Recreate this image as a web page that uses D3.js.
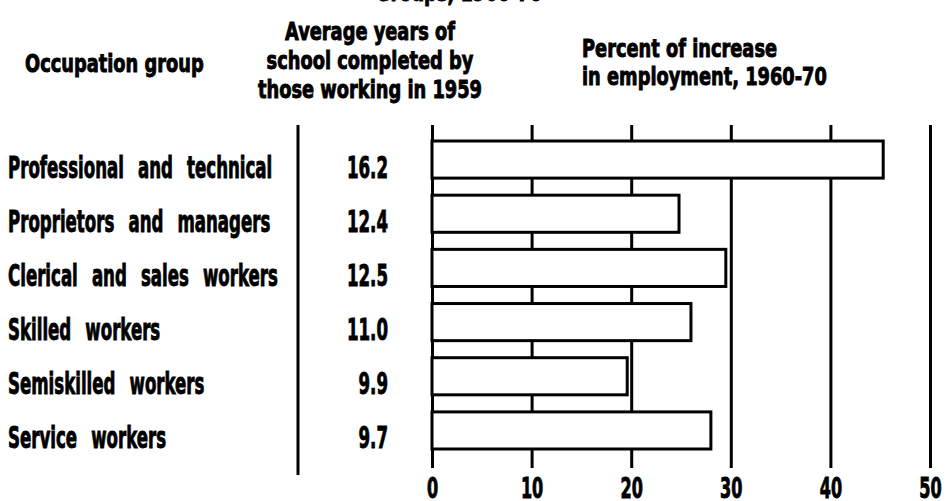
<!DOCTYPE html>
<html>
<head>
<meta charset="utf-8">
<script src="https://cdn.jsdelivr.net/npm/d3@7"></script>
<style>
  body { margin: 0; background: #fff; }
  svg text {
    font-family: "Liberation Sans Narrow", "DejaVu Sans Condensed", "Liberation Sans", Arial, sans-serif;
    font-weight: bold;
    fill: #000;
    stroke: #000;
    stroke-width: 0.9px;
  }
</style>
</head>
<body>
<svg id="chart" width="949" height="501"></svg>
<script>
// data
const groups = [
  "Professional and technical",
  "Proprietors and managers",
  "Clerical and sales workers",
  "Skilled workers",
  "Semiskilled workers",
  "Service workers"
];
const schoolYears = ["16.2", "12.4", "12.5", "11.0", "9.9", "9.7"];
const growth = [45.3, 24.8, 29.5, 26.0, 19.6, 28.0];
const xTicks = [0, 10, 20, 30, 40, 50];

const titleTail = "Groups, 1960-70";
const occHeader = ["Occupation group"];
const schoolHeader = ["Average years of", "school completed by", "those working in 1959"];
const growthHeader = ["Percent of increase", "in employment, 1960-70"];

const svg = d3.select("#chart");

const x = d3.scaleLinear().domain([0, 50]).range([432, 930]);
const y = d3.scaleBand().domain(groups).range([141, 449]).paddingInner(0.315).paddingOuter(0);

const gridTop = 125, gridBottom = 468;

// squeeze text horizontally so the condensed look of the original fits
function fitWidth(sel, target) {
  let w = 0;
  sel.each(function() { w = Math.max(w, this.getComputedTextLength()); });
  return target / w;
}

// ---- grid + tick labels via axis
const axis = d3.axisBottom(x)
  .tickValues(xTicks)
  .tickSize(-(gridBottom - gridTop))
  .tickPadding(8)
  .tickFormat(d3.format("d"));

const gAxis = svg.append("g")
  .attr("transform", `translate(0,${gridBottom})`)
  .call(axis);
gAxis.select(".domain").remove();
gAxis.selectAll(".tick line")
  .attr("stroke", "#000")
  .attr("stroke-width", 3);
gAxis.selectAll(".tick text")
  .attr("font-size", 29)
  .attr("dy", null)
  .attr("y", 30)
  .style("font-family", null);

// ---- bars
svg.append("g").selectAll("rect")
  .data(groups)
  .join("rect")
  .attr("x", x(0))
  .attr("y", d => y(d))
  .attr("width", (d, i) => x(growth[i]) - x(0))
  .attr("height", y.bandwidth())
  .attr("fill", "#fff")
  .attr("stroke", "#000")
  .attr("stroke-width", 3);

// ---- divider between label column and numbers
svg.append("line")
  .attr("x1", 298).attr("x2", 298)
  .attr("y1", gridTop).attr("y2", 475)
  .attr("stroke", "#000")
  .attr("stroke-width", 3);

// ---- row labels
const rowLabels = svg.append("g").selectAll("text")
  .data(groups)
  .join("text")
  .attr("font-size", 30)
  .style("word-spacing", "0.45em")
  .text(d => d);
const kRow = fitWidth(rowLabels, 270);
rowLabels.attr("transform", d => `translate(8,${y(d) + y.bandwidth() / 2 + 18}) scale(${kRow},1)`);

svg.append("g").selectAll("text")
  .data(schoolYears)
  .join("text")
  .attr("font-size", 30)
  .attr("text-anchor", "end")
  .attr("transform", (d, i) => `translate(388,${y(groups[i]) + y.bandwidth() / 2 + 18}) scale(${kRow},1)`)
  .text(d => d);

gAxis.selectAll(".tick text").attr("transform", `scale(${kRow},1)`);

// ---- headers
const schoolText = svg.append("g").selectAll("text")
  .data(schoolHeader)
  .join("text")
  .attr("font-size", 25)
  .attr("text-anchor", "middle")
  .text(d => d);
const kHead = fitWidth(schoolText, 224);
schoolText.attr("transform", (d, i) => `translate(370,${40 + i * 29}) scale(${kHead},1)`);

svg.append("g").selectAll("text")
  .data(occHeader)
  .join("text")
  .attr("font-size", 25)
  .attr("transform", `translate(25,72) scale(${kHead},1)`)
  .text(d => d);

svg.append("g").selectAll("text")
  .data(growthHeader)
  .join("text")
  .attr("font-size", 25)
  .attr("transform", (d, i) => `translate(582,${57 + i * 28}) scale(${kHead},1)`)
  .text(d => d);

// title, mostly cut off at the top edge
svg.append("text")
  .attr("font-size", 25)
  .attr("text-anchor", "middle")
  .attr("transform", `translate(459,1) scale(${kHead},1)`)
  .text(titleTail);
</script>
</body>
</html>
